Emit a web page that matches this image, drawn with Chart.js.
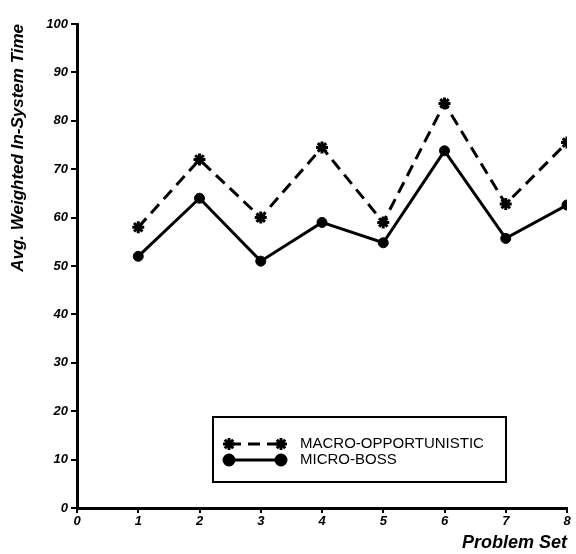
<!DOCTYPE html>
<html>
<head>
<meta charset="utf-8">
<script src="https://cdn.jsdelivr.net/npm/chart.js@4/dist/chart.umd.min.js"></script>
<style>
  html, body { margin: 0; padding: 0; background: #fff; }
  #wrap { width: 576px; height: 554px; }
</style>
</head>
<body>
<div id="wrap"><canvas id="chart" width="576" height="554"></canvas></div>
<script>
const problemSets = [1, 2, 3, 4, 5, 6, 7, 8];
const macroOpportunistic = [58, 72, 60, 74.5, 59, 83.6, 62.8, 75.5];
const microBoss = [52, 64, 51, 59, 54.8, 73.8, 55.7, 62.6];
const seriesNames = ['MACRO-OPPORTUNISTIC', 'MICRO-BOSS'];

const tickFont = { family: 'Liberation Sans', size: 13, weight: 'bold', style: 'italic' };

// legende dans un cadre, en bas a droite de la zone du graphique
const boxLegend = {
    id: 'boxLegend',
    afterDraw(chart) {
        const ctx = chart.ctx;
        const x0 = 213, y0 = 417, w = 293, h = 65;
        ctx.save();
        ctx.fillStyle = '#fff';
        ctx.fillRect(x0, y0, w, h);
        ctx.strokeStyle = '#000';
        ctx.lineWidth = 2;
        ctx.strokeRect(x0, y0, w, h);
        ctx.font = '15px "Liberation Sans"';
        ctx.textBaseline = 'middle';
        chart.data.datasets.forEach((ds, i) => {
            const y = 444 + i * 16;
            ctx.beginPath();
            ctx.setLineDash(ds.borderDash || []);
            ctx.lineWidth = ds.borderWidth;
            ctx.moveTo(229, y);
            ctx.lineTo(281, y);
            ctx.stroke();
            ctx.setLineDash([]);
            Chart.helpers.drawPoint(ctx, {
                pointStyle: ds.pointStyle, radius: ds.pointRadius, borderWidth: ds.pointBorderWidth
            }, 229, y);
            Chart.helpers.drawPoint(ctx, {
                pointStyle: ds.pointStyle, radius: ds.pointRadius, borderWidth: ds.pointBorderWidth
            }, 281, y);
            ctx.fillStyle = '#000';
            ctx.fillText(ds.label, 300, y);
        });
        ctx.restore();
    }
};

new Chart(document.getElementById('chart'), {
    type: 'line',
    data: {
        datasets: [
            {
                label: seriesNames[0],
                data: problemSets.map((p, i) => ({ x: p, y: macroOpportunistic[i] })),
                borderColor: '#000', backgroundColor: '#000',
                borderWidth: 3, borderDash: [12, 7],
                pointStyle: 'star', pointRadius: 6, pointBorderWidth: 3
            },
            {
                label: seriesNames[1],
                data: problemSets.map((p, i) => ({ x: p, y: microBoss[i] })),
                borderColor: '#000', backgroundColor: '#000',
                borderWidth: 3,
                pointStyle: 'circle', pointRadius: 5, pointBorderWidth: 1
            }
        ]
    },
    options: {
        responsive: false,
        animation: false,
        layout: { padding: { left: 0, right: 7, top: 24, bottom: 0 } },
        plugins: {
            legend: { display: false },
            tooltip: { enabled: false }
        },
        scales: {
            x: {
                type: 'linear', min: 0, max: 8,
                afterFit: (s) => { s.height = 46; },
                border: { color: '#000', width: 3 },
                grid: { drawOnChartArea: false, drawTicks: true, tickLength: 5, color: '#000', lineWidth: 2 },
                ticks: { stepSize: 1, color: '#000', font: tickFont, padding: 1 },
                title: {
                    display: true, text: 'Problem Set', align: 'end', color: '#000',
                    font: { family: 'Liberation Sans', size: 18, weight: 'bold', style: 'italic' },
                    padding: { top: 0, bottom: 0 }
                }
            },
            y: {
                min: 0, max: 100,
                afterFit: (s) => { s.width = 77; },
                border: { color: '#000', width: 3 },
                grid: { drawOnChartArea: false, drawTicks: true, tickLength: 6, color: '#000', lineWidth: 2 },
                ticks: { stepSize: 10, color: '#000', font: tickFont, padding: 3 },
                title: {
                    display: true, text: 'Avg. Weighted In-System Time', align: 'end', color: '#000',
                    font: { family: 'Liberation Sans', size: 17, weight: 'bold', style: 'italic' },
                    padding: { top: 8, bottom: 4 }
                }
            }
        }
    },
    plugins: [boxLegend]
});
</script>
</body>
</html>
